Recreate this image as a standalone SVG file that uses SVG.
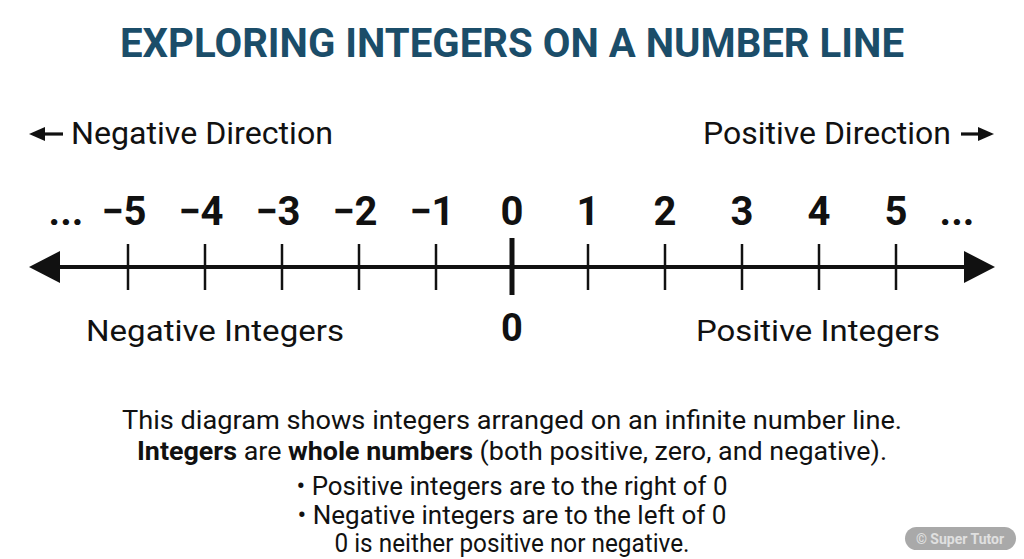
<svg xmlns="http://www.w3.org/2000/svg" width="1024" height="559" viewBox="0 0 1024 559">
<style>
.t{font-family:Roboto,"Liberation Sans",sans-serif;fill:#111}
.num{font-size:40px;font-weight:bold;text-anchor:middle}
.dir{font-size:31px}
.lbl{font-size:30px}
.body{font-size:25px;text-anchor:middle}
.tick{stroke:#111;stroke-width:2.5}
</style>
<rect width="1024" height="559" fill="#fff"/>
<g id="title"><text class="t" x="512" y="57" font-size="40" font-weight="bold" text-anchor="middle" style="fill:#1b4d69" textLength="784" lengthAdjust="spacingAndGlyphs">EXPLORING INTEGERS ON A NUMBER LINE</text></g>
<g id="neg-direction">
<line x1="40" y1="134" x2="63" y2="134" stroke="#111" stroke-width="3.2"/>
<polygon points="29,134 45,127 45,141" fill="#111"/>
<text class="t dir" x="71" y="144" textLength="262" lengthAdjust="spacingAndGlyphs">Negative Direction</text>
</g>
<g id="pos-direction">
<text class="t dir" x="703" y="144" textLength="248" lengthAdjust="spacingAndGlyphs">Positive Direction</text>
<line x1="961" y1="134" x2="985" y2="134" stroke="#111" stroke-width="3.2"/>
<polygon points="994,134 978,127 978,141" fill="#111"/>
</g>
<g id="connectors">
<line x1="55" y1="267" x2="970" y2="267" stroke="#111" stroke-width="4"/>
<polygon points="29,267 60,251 60,283" fill="#111"/>
<polygon points="995,267 964,251 964,283" fill="#111"/>
<line class="tick" x1="128" y1="244" x2="128" y2="290"/>
<line class="tick" x1="205" y1="244" x2="205" y2="290"/>
<line class="tick" x1="282" y1="244" x2="282" y2="290"/>
<line class="tick" x1="359" y1="244" x2="359" y2="290"/>
<line class="tick" x1="436" y1="244" x2="436" y2="290"/>
<line x1="512" y1="238" x2="512" y2="295" stroke="#111" stroke-width="5"/>
<line class="tick" x1="588" y1="244" x2="588" y2="290"/>
<line class="tick" x1="665" y1="244" x2="665" y2="290"/>
<line class="tick" x1="742" y1="244" x2="742" y2="290"/>
<line class="tick" x1="819" y1="244" x2="819" y2="290"/>
<line class="tick" x1="896" y1="244" x2="896" y2="290"/>
</g>
<g id="numbers">
<text class="t num" x="66" y="225">...</text>
<text class="t num" x="124" y="225">−5</text>
<text class="t num" x="201" y="225">−4</text>
<text class="t num" x="278" y="225">−3</text>
<text class="t num" x="355" y="225">−2</text>
<text class="t num" x="432" y="225">−1</text>
<text class="t num" x="512" y="225">0</text>
<text class="t num" x="588" y="225">1</text>
<text class="t num" x="665" y="225">2</text>
<text class="t num" x="742" y="225">3</text>
<text class="t num" x="819" y="225">4</text>
<text class="t num" x="896" y="225">5</text>
<text class="t num" x="957" y="225">...</text>
</g>
<g id="neg-integers"><text class="t lbl" x="86" y="341" textLength="258" lengthAdjust="spacingAndGlyphs">Negative Integers</text></g>
<g id="zero"><text class="t" x="512" y="341" font-size="38" font-weight="bold" text-anchor="middle">0</text></g>
<g id="pos-integers"><text class="t lbl" x="696" y="341" textLength="244" lengthAdjust="spacingAndGlyphs">Positive Integers</text></g>
<g id="description">
<text class="t body" x="512" y="429" textLength="780" lengthAdjust="spacingAndGlyphs">This diagram shows integers arranged on an infinite number line.</text>
<text class="t body" x="512" y="460" textLength="750" lengthAdjust="spacingAndGlyphs"><tspan font-weight="bold">Integers</tspan> are <tspan font-weight="bold">whole numbers</tspan> (both positive, zero, and negative).</text>
<text class="t body" x="512" y="495" font-size="24" textLength="431" lengthAdjust="spacingAndGlyphs">• Positive integers are to the right of 0</text>
<text class="t body" x="512" y="524" font-size="24" textLength="429" lengthAdjust="spacingAndGlyphs">• Negative integers are to the left of 0</text>
<text class="t body" x="512" y="552" font-size="24" textLength="355" lengthAdjust="spacingAndGlyphs">0 is neither positive nor negative.</text>
</g>
<g id="watermark">
<rect x="905" y="527" width="111" height="23" rx="11.5" fill="#a9a9a9"/>
<text x="960" y="543.5" font-family="Roboto,'Liberation Sans',sans-serif" font-size="14" font-weight="bold" fill="#e0e0e0" text-anchor="middle">© Super Tutor</text>
</g>
</svg>
